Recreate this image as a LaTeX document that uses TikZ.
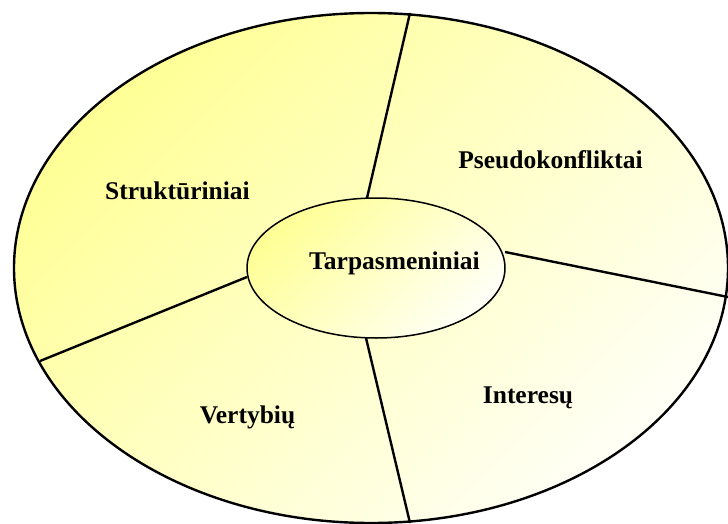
\documentclass[tikz,border=0pt]{standalone}
\usepackage{fontspec}
\setmainfont{Liberation Serif}
\usetikzlibrary{shapes.geometric}
\definecolor{yelA}{RGB}{255,255,150}
\definecolor{yelB}{RGB}{255,255,246}
\tikzset{
  ringshape/.style={ellipse, draw=black, inner sep=0pt, shade, top color=yelA, bottom color=yelB, shading angle=45},
  spoke/.style={draw=black, line width=2.4pt},
  lbl/.style={inner sep=0pt, anchor=base, font=\fontsize{25.5}{30}\selectfont\bfseries}
}
\begin{document}
\begin{tikzpicture}[x=1pt,y=-1pt]
\useasboundingbox (0,0) rectangle (728,524);
\node[ringshape, line width=2.4pt, minimum width=714pt, minimum height=510pt] (outer) at (371,268) {};
% spoke end points
\coordinate (oT) at (410,13);
\coordinate (oR) at (728,297);
\coordinate (oB) at (410,523);
\coordinate (oL) at (40,361);
\coordinate (iT) at (367,198);
\coordinate (iR) at (505,252);
\coordinate (iB) at (366,338);
\coordinate (iL) at (247,277);
\draw[spoke] (iT) -- (oT);
\draw[spoke] (iR) -- (oR);
\draw[spoke] (iB) -- (oB);
\draw[spoke] (iL) -- (oL);
\node[ringshape, line width=1.5pt, minimum width=258pt, minimum height=140pt] (inner) at (376,268) {};
\node[lbl] (tc) at (394.5,269) {Tarpasmeniniai};
\node[lbl] (ts) at (177.5,199) {Struktūriniai};
\node[lbl] (tp) at (550.5,168) {Pseudokonfliktai};
\node[lbl] (ti) at (528,403) {Interesų};
\node[lbl] (tv) at (247.5,423) {Vertybių};
\end{tikzpicture}
\end{document}
